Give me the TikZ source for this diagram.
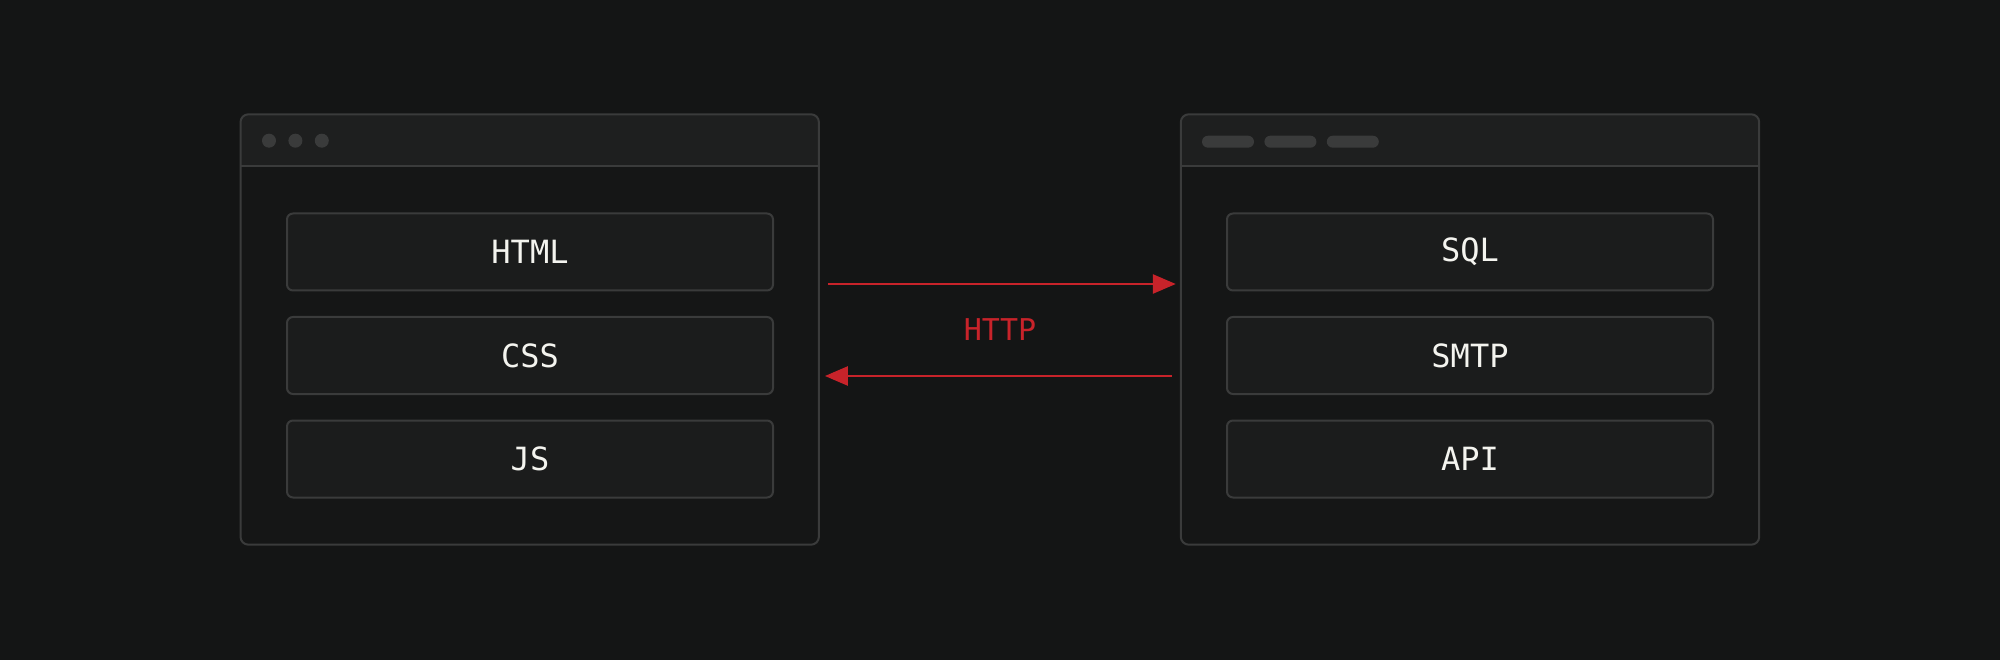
\documentclass[tikz,border=0pt]{standalone}
\usepackage{fontspec}
\setmonofont{DejaVu Sans Mono}
\usetikzlibrary{positioning,arrows.meta}

\definecolor{bgc}{HTML}{141515}
\definecolor{winfill}{HTML}{151616}
\definecolor{barfill}{HTML}{1E1F1F}
\definecolor{edgec}{HTML}{3A3B3B}
\definecolor{boxfill}{HTML}{1B1C1C}
\definecolor{dotfill}{HTML}{3A3B3B}
\definecolor{httpred}{HTML}{C8232A}
\definecolor{txt}{HTML}{F4F4EF}

\begin{document}
\begin{tikzpicture}[x=1pt,y=-1pt,
	window/.style={rectangle,fill=winfill,minimum width=578pt,minimum height=430pt,inner sep=0pt},
	layer/.style={draw=edgec,fill=boxfill,line width=2pt,rounded corners=6pt,minimum width=486pt,minimum height=77pt,font=\ttfamily\fontsize{32}{32}\selectfont,text=txt},
	dot/.style={circle,fill=dotfill,minimum size=14pt,inner sep=0pt},
	pill/.style={rectangle,rounded corners=6pt,fill=dotfill,minimum width=52pt,minimum height=12pt,inner sep=0pt},
	msg/.style={line width=2.5pt,color=httpred,-{Triangle[length=23pt,width=19pt]}}]

\fill[bgc] (0,0) rectangle (2000,660);
\useasboundingbox (0,0) rectangle (2000,660);

\node[window](lw) at (529.7,329.5) {};
\node[window](rw) at (1470,329.5) {};

% title bars
\foreach \w in {lw,rw}{
	\begin{scope}
		\clip[rounded corners=8pt] (\w.north west) rectangle (\w.south east);
		\fill[barfill] (\w.north west) rectangle ([yshift=-52pt]\w.north east);
	\end{scope}
	\draw[edgec,line width=2pt] ([yshift=-52pt]\w.north west) -- ([yshift=-52pt]\w.north east);
	\draw[edgec,line width=2pt,rounded corners=8pt] (\w.north west) rectangle (\w.south east);
}

\node[dot](d1) at (269,140.7) {};
\node[dot,right=12pt of d1](d2) {};
\node[dot,right=12pt of d2](d3) {};

\node[pill](p1) at (1228,141.7) {};
\node[pill,right=10pt of p1](p2) {};
\node[pill,right=10pt of p2](p3) {};

\foreach \lbl [count=\i] in {HTML,CSS,JS}{
	\node[layer](l\i) at (530,148.5+103.5*\i) {\lbl};
}
\foreach \lbl [count=\i] in {SQL,SMTP,API}{
	\node[layer](r\i) at (1470,148.5+103.5*\i) {\lbl};
}

\draw[msg,shorten <=9pt,shorten >=5pt] ([yshift=45.5pt]lw.east) -- ([yshift=45.5pt]rw.west);
\draw[msg,shorten <=9pt,shorten >=6pt] ([yshift=-46.5pt]rw.west) -- ([yshift=-46.5pt]lw.east);
\node[font=\ttfamily\fontsize{30}{30}\selectfont,text=httpred](http) at (1000,330) {HTTP};

\end{tikzpicture}
\end{document}
